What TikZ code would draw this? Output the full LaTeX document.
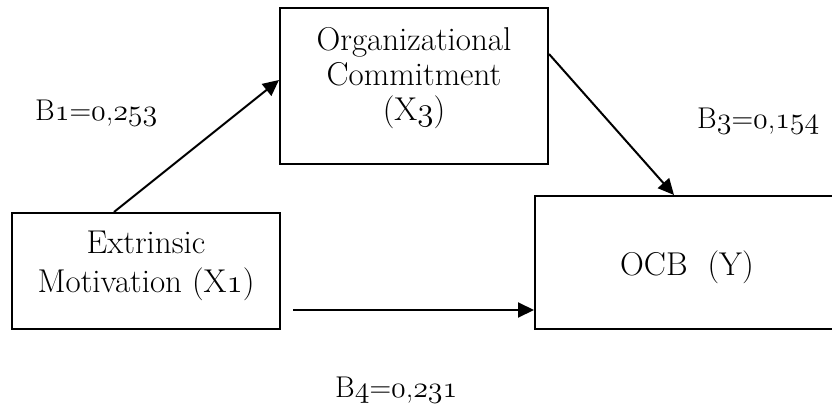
\documentclass[tikz,border=0pt]{standalone}
\usetikzlibrary{arrows.meta,calc}
\font\osfont=cmmi12 at 33pt
\font\oslbl=cmmi12 at 30pt
\newcommand\osn[1]{{\osfont #1}}
\newcommand\osl[1]{{\oslbl #1}}
\tikzset{
  box/.style={draw=black, line width=2pt, inner sep=0pt},
  txt/.style={inner sep=0pt, align=center, font=\fontsize{33}{35}\selectfont},
  lbl/.style={inner sep=0pt, anchor=base west, font=\fontsize{30}{35}\selectfont},
  arr/.style={line width=2pt, -{Triangle[length=16pt,width=15pt]}}
}
\begin{document}
\begin{tikzpicture}[x=1pt,y=-1pt]
\clip (0,0) rectangle (832,407);
\fill[white] (0,0) rectangle (832,407);
% boxes
\node[box, minimum width=268pt, minimum height=156pt] (x3) at (414,86) {};
\node[box, minimum width=268pt, minimum height=116pt] (x1) at (146,271) {};
\node[box, minimum width=304pt, minimum height=133pt] (y) at (687,262.5) {};
% box texts
\node[txt] (x3t) at (414,77.7) {Organizational\\Commitment\\(X\osn{3})};
\node[txt] (x1t) at (146,265.4) {Extrinsic\\[4pt]Motivation (X\osn{1})};
\node[txt, anchor=base] (yt) at (687,275) {OCB\ \ (Y)};
% coefficient labels
\node[lbl] (b1) at (35,120) {B\osl{1}=\osl{0},\osl{253}};
\node[lbl] (b3) at (697,128) {B\osl{3}=\osl{0},\osl{154}};
\node[lbl] (b4) at (335,397) {B\osl{4}=\osl{0},\osl{231}};
% connectors
\coordinate (s4) at ([shift={(12pt,-39pt)}]x1.east);
\draw[arr] ([xshift=103pt]x1.north west) -- ([yshift=6pt]x3.west);
\draw[arr] ([yshift=-47pt]x3.north east) -- ([xshift=140pt]y.north west);
\draw[arr] (s4) -- ([yshift=-47.5pt]y.west);
\end{tikzpicture}
\end{document}
